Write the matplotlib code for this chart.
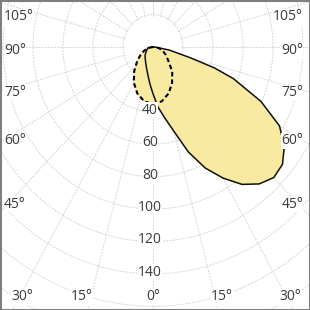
import matplotlib
matplotlib.use("Agg")
import matplotlib.pyplot as plt
import numpy as np

plt.rcParams['font.family'] = ['Open Sans', 'DejaVu Sans']

# C0-C180 plane (solid), angle from nadir in degrees, intensity
angles_c0 = [-90, -80, -60, -45, -30, -20, -10, -5, 0, 5, 10, 15, 20, 25, 30,
             35, 40, 45, 50, 55, 60, 65, 70, 72.5, 75, 80, 85, 90]
intensity_c0 = [0, 3.4, 5.2, 7.5, 10, 13, 18.4, 23, 28.8, 37, 44.2, 53.8, 68.9,
                82.4, 93.4, 103.5, 110.3, 113.9, 112.7, 106.9, 97.4, 79.4,
                57, 43, 26, 11.2, 2.5, 0]

# C90-C270 plane (dashed)
angles_c90 = [-90, -80, -70, -60, -50, -40, -30, -20, -10, 0, 10, 20, 30, 40,
              50, 60, 70, 80, 90]
intensity_c90 = [0, 3, 6, 9.5, 13.8, 19.5, 25.5, 30.5, 34, 35.2, 34, 30.5,
                 25.5, 20, 13.5, 10, 7, 4, 0]

ring_values = [20, 40, 60, 80, 100, 120, 140, 160, 180, 200]
ring_labels = [40, 60, 80, 100, 120, 140]
angle_lines = np.arange(-180, 181, 15)

left_labels = ['105°', '90°', '75°', '60°', '45°']
left_label_y = [17, 51, 93, 141, 204]
bottom_labels = ['30°', '15°', '0°', '15°', '30°']
bottom_label_x = [22, 82, 153, 222, 290]


def to_xy(ang, r):
    a = np.radians(np.asarray(ang, dtype=float))
    r = np.asarray(r, dtype=float)
    return r * np.sin(a), -r * np.cos(a)


fig = plt.figure(figsize=(3.1, 3.1), dpi=100)
ax = fig.add_axes([0, 0, 1, 1])
ax.set_xlim(-102, 104.7)
ax.set_ylim(-162.3, 29.0)
ax.set_xticks([])
ax.set_yticks([])
for s in ax.spines.values():
    s.set_color('#7f7f7f')
    s.set_linewidth(2.2)

grid_kw = dict(color='#d6d6d6', lw=0.7, ls=(0, (2, 1.2)), zorder=1)
t = np.linspace(0, 2 * np.pi, 400)
for rv in ring_values:
    ax.plot(rv * np.cos(t), rv * np.sin(t), **grid_kw)
for a in angle_lines:
    x, y = to_xy([a, a], [19, 300])
    ax.plot(x, y, **grid_kw)

x90, y90 = to_xy(angles_c90, intensity_c90)
x0, y0 = to_xy(angles_c0, intensity_c0)
fill_c = '#f9eaa2'
ax.fill(x90, y90, color=fill_c, zorder=2)
ax.fill(x0, y0, color=fill_c, zorder=2)
ax.plot(x0, y0, color='#111111', lw=1.1, zorder=3)
ax.plot(x90, y90, color='black', lw=1.5, ls=(0, (2.2, 1.4)), zorder=4)

txt_kw = dict(fontsize=10, color='#3a3a3a', zorder=5,
              bbox=dict(facecolor='white', edgecolor='none', pad=0.3))
for v in ring_labels:
    ax.text(-2, -v + 1, str(v), ha='center', va='center', **txt_kw)

for lab, py in zip(left_labels, left_label_y):
    ax.text(4 / 310, 1 - py / 310, lab, transform=ax.transAxes,
            ha='left', va='center', **txt_kw)
    ax.text(303 / 310, 1 - py / 310, lab, transform=ax.transAxes,
            ha='right', va='center', **txt_kw)
for lab, px in zip(bottom_labels, bottom_label_x):
    ax.text(px / 310, 1 - 297 / 310, lab, transform=ax.transAxes,
            ha='center', va='center', **txt_kw)

fig.savefig('out.png', dpi=100)
